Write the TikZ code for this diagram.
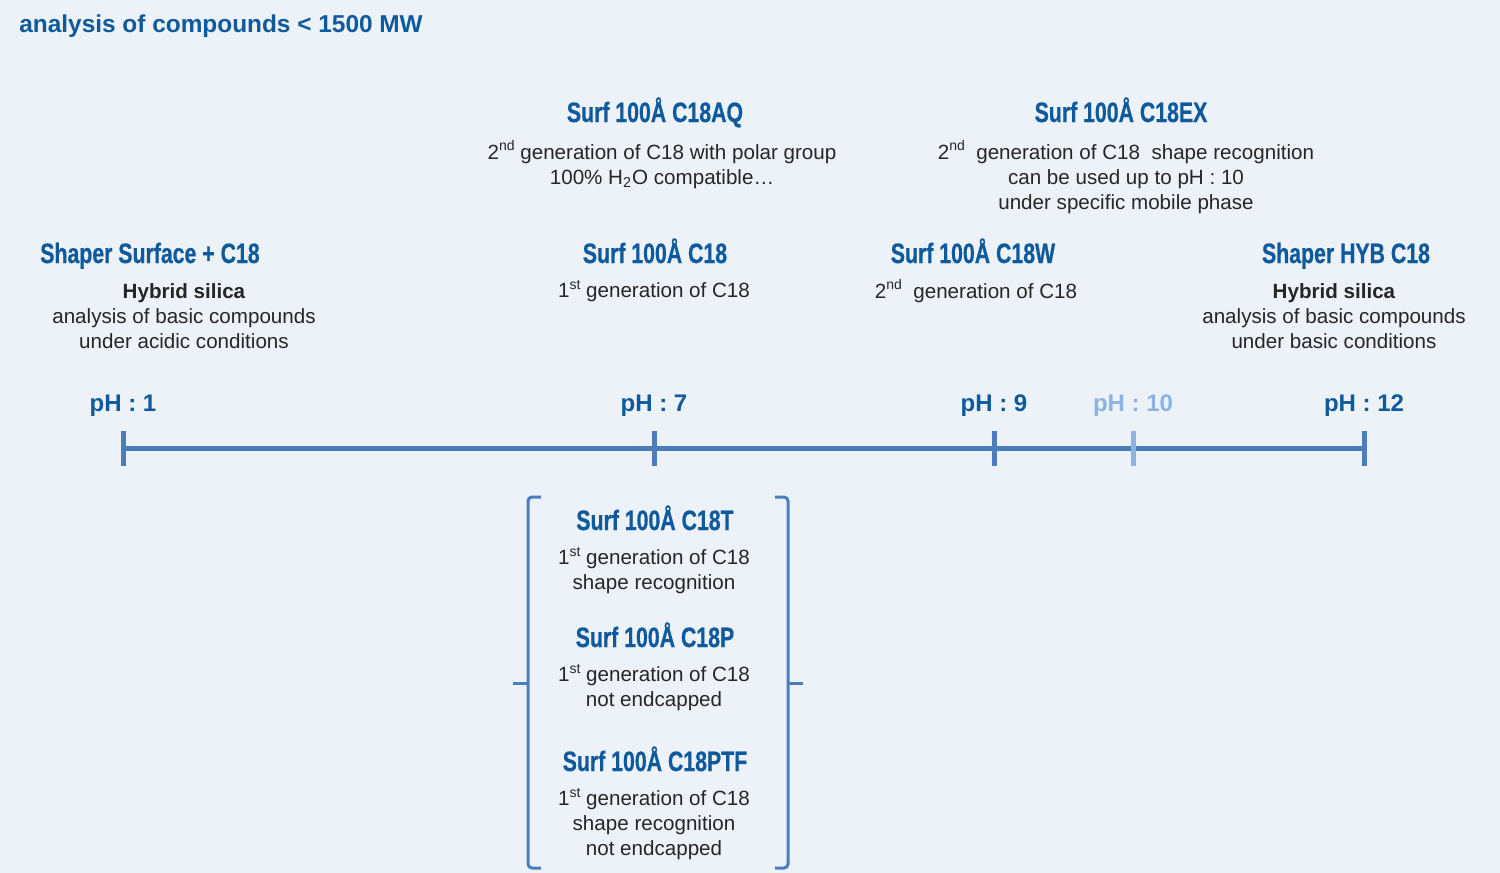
\documentclass[tikz,border=0pt]{standalone}
\usepackage{fontspec}
\setmainfont{Liberation Sans}
\newfontfamily\headfont{Liberation Sans}[FakeStretch=0.76,FakeBold=0.6]
\newcommand\ordsup[1]{\raisebox{0.42em}{\fontsize{7}{8}\selectfont #1}}
\definecolor{bgcol}{HTML}{EDF1F8}
\definecolor{titleblue}{HTML}{0E5A9C}
\definecolor{axisblue}{HTML}{4A7EBB}
\definecolor{lightblue}{HTML}{8DB3E2}
\definecolor{txtgray}{HTML}{262626}
\begin{document}
\begin{tikzpicture}[x=0.5pt,y=-0.5pt,
  every node/.style={inner sep=0pt,text=txtgray},
  head/.style={font=\headfont\bfseries\fontsize{14}{16}\selectfont,text=titleblue,anchor=base},
  desc/.style={font=\fontsize{10.3}{12.5}\selectfont,align=center},
  phlabel/.style={font=\bfseries\fontsize{12}{14}\selectfont,text=titleblue,anchor=base},
  axisline/.style={line width=2.5pt,draw=axisblue},
  tickline/.style={line width=2.5pt,draw=#1},
  bracket/.style={line width=1.5pt,draw=axisblue,rounded corners=2pt}]
\fill[bgcol] (0,0) rectangle (1500,873);
\useasboundingbox (0,0) rectangle (1500,873);
\node[anchor=base west,font=\bfseries\fontsize{12.2}{14}\selectfont,text=titleblue] (title) at (19,32) {analysis of compounds < 1500 MW};
\node[head] (aq) at (655,122) {Surf 100Å C18AQ};
\node[desc] (aqdesc) at (662,164.5) {2\ordsup{nd} generation of C18 with polar group\\100\% H\textsubscript{2}O compatible\dots};
\node[head] (ex) at (1121,122) {Surf 100Å C18EX};
\node[desc] (exdesc) at (1126,177) {2\ordsup{nd}\ \ generation of C18\ \ shape recognition\\can be used up to pH : 10\\under specific mobile phase};
\node[head] (shs) at (150,263) {Shaper Surface + C18};
\node[desc] (shsdesc) at (184,316) {\textbf{Hybrid silica}\\analysis of basic compounds\\under acidic conditions};
\node[head] (c18) at (655,263) {Surf 100Å C18};
\node[desc] (c18desc) at (654,291) {1\ordsup{st} generation of C18};
\node[head] (c18w) at (973,263) {Surf 100Å C18W};
\node[desc] (c18wdesc) at (976,291) {2\ordsup{nd}\ \ generation of C18};
\node[head] (hyb) at (1346,263) {Shaper HYB C18};
\node[desc] (hybdesc) at (1334,316) {\textbf{Hybrid silica}\\analysis of basic compounds\\under basic conditions};
\node[phlabel] (ph1) at (123,411) {pH : 1};
\node[phlabel] (ph7) at (654,411) {pH : 7};
\node[phlabel] (ph9) at (994,411) {pH : 9};
\node[phlabel,text=lightblue] (ph10) at (1133,411) {pH : 10};
\node[phlabel] (ph12) at (1364,411) {pH : 12};
\coordinate (t1) at (123,448);
\coordinate (t12) at (1364,448);
\draw[axisline] (t1) -- (t12);
\foreach \x/\c in {123/axisblue,654/axisblue,994/axisblue,1133/lightblue,1364/axisblue}
  \draw[tickline=\c] (\x,431) -- (\x,466);
\node[head] (c18t) at (655,530) {Surf 100Å C18T};
\node[desc] (c18tdesc) at (654,570.5) {1\ordsup{st} generation of C18\\shape recognition};
\node[head] (c18p) at (655,647) {Surf 100Å C18P};
\node[desc] (c18pdesc) at (654,687.5) {1\ordsup{st} generation of C18\\not endcapped};
\node[head] (c18ptf) at (655,771) {Surf 100Å C18PTF};
\node[desc] (c18ptfdesc) at (654,824) {1\ordsup{st} generation of C18\\shape recognition\\not endcapped};
\draw[bracket] (541,497) -- (528,497) -- (528,868) -- (541,868);
\draw[bracket] (528,683) -- (513,683);
\draw[bracket] (775,497) -- (788,497) -- (788,868) -- (775,868);
\draw[bracket] (788,683) -- (803,683);
\end{tikzpicture}
\end{document}
